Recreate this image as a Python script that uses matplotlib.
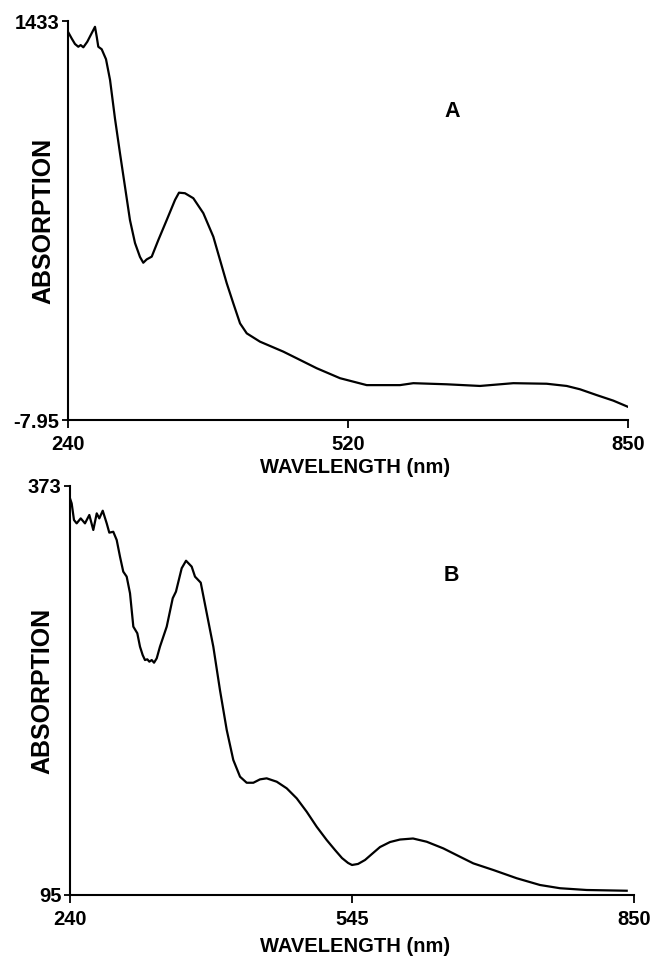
import matplotlib
matplotlib.use("Agg")
import matplotlib.pyplot as plt

plt.rcParams['font.family'] = ['Liberation Sans', 'DejaVu Sans']
plt.rcParams['font.weight'] = 'bold'

# Panel A data
wl_a = [240, 244, 247.6, 251.2, 253.8, 256.7, 261, 265.8, 269.4, 271.3,
        273, 276.7, 281.4, 285.8, 291.2, 296.6, 302.1, 307.5, 313, 318.4,
        322, 325.7, 331.2, 338.4, 347.5, 356.6, 360.9, 367.4, 376.5, 387.4,
        398.3, 405.6, 412.9, 420.1, 427.4, 434.7, 449.1, 474.5, 489.1, 510.9,
        536.3, 565.4, 601.6, 616.1, 652.5, 688.8, 725.1, 761.4, 783.2, 797.7,
        815.9, 834, 849.7]
abs_a = [1394, 1370, 1350, 1340, 1346, 1338, 1358, 1389, 1412, 1376,
         1340, 1331, 1295, 1220, 1080, 956, 834, 714, 631, 581,
         560, 572, 582, 642, 714, 787, 813, 811, 793, 739,
         654, 570, 486, 413, 341, 305, 275, 239, 215, 179,
         143, 118, 118, 125, 121, 115, 125, 123, 115, 103,
         82, 62, 40]

# Panel B data
wl_b = [240, 241.8, 244.3, 247.2, 251.6, 256.2, 260.9, 265.2, 268.9, 271.7,
        275.4, 279.7, 282.5, 286.8, 290.5, 294.1, 297.6, 301.3, 304.9, 308.5,
        312.8, 315.7, 318.6, 321.1, 323.6, 325.8, 328.4, 330.9, 333.8, 337.3,
        344.6, 351.1, 354.6, 360.8, 365.5, 371.6, 375.2, 381.4, 387.9, 395.0,
        402.2, 409.5, 416.6, 423.9, 431.1, 438.3, 445.5, 452.7, 463.6, 474.4,
        485.2, 496.0, 506.8, 517.6, 526.6, 534.2, 540.7, 545.0, 551.5, 559.1,
        566.6, 575.3, 586.1, 596.9, 611.0, 625.8, 643.7, 661.8, 676.2, 697.8,
        723.1, 748.3, 770.0, 798.8, 842.1]
abs_b = [364.6, 361.2, 349.9, 347.6, 351.0, 347.6, 353.3, 343.1, 354.4, 351.0,
         356.2, 347.6, 341.3, 341.9, 336.3, 324.9, 314.8, 311.4, 300.1, 277.4,
         272.9, 263.8, 258.1, 254.7, 255.2, 253.6, 254.7, 252.9, 255.9, 263.8,
         277.4, 296.7, 301.2, 317.1, 322.2, 318.2, 311.4, 307.3, 286.5, 263.8,
         234.3, 207.2, 186.8, 175.4, 171.3, 171.3, 173.6, 174.3, 172.0, 167.5,
         160.7, 151.6, 141.4, 132.4, 125.6, 120.1, 116.8, 115.4, 116.1, 118.8,
         122.9, 127.6, 131.0, 132.7, 133.4, 131.2, 126.7, 121.0, 116.5, 112.0,
         106.4, 101.8, 99.6, 98.4, 97.9]

xlim = (240, 850)
ylim_a = (-7.95, 1433)
ylim_b = (95, 373)
xtick_pos = [240, 545, 850]
xtick_lab_a = ['240', '520', '850']
xtick_lab_b = ['240', '545', '850']
ytick_lab_a = ['-7.95', '1433']
ytick_lab_b = ['95', '373']

fig = plt.figure(figsize=(6.55, 9.59), dpi=100)
W, H = 655, 959
axA = fig.add_axes([68 / W, 1 - 420 / H, 560 / W, 399 / H])
axB = fig.add_axes([70 / W, 1 - 895 / H, 564 / W, 409 / H])


def style(ax, ylim, xl, yl, letter, lx, ly, xlab_c, ylab_c):
    ax.set_xlim(*xlim)
    ax.set_ylim(*ylim)
    for s in ['top', 'right']:
        ax.spines[s].set_visible(False)
    for s in ['left', 'bottom']:
        ax.spines[s].set_linewidth(1.5)
    ax.set_xticks(xtick_pos)
    ax.set_xticklabels(xl, fontsize=14.5, fontweight='bold')
    ax.set_yticks(list(ylim))
    ax.set_yticklabels(yl, fontsize=14.5, fontweight='bold')
    ax.tick_params(axis='x', direction='out', length=6, width=1.3, pad=5)
    ax.tick_params(axis='y', direction='out', length=4, width=1.3, pad=2)
    ax.set_xlabel('WAVELENGTH (nm)', fontsize=14.5, fontweight='bold')
    ax.set_ylabel('ABSORPTION', fontsize=18, fontweight='bold')
    ax.xaxis.set_label_coords(*xlab_c)
    ax.yaxis.set_label_coords(*ylab_c)
    ax.text(lx, ly, letter, transform=ax.transAxes, fontsize=15.5,
            fontweight='bold', ha='center', va='center')


axA.plot(wl_a, abs_a, color='black', lw=1.6)
axB.plot(wl_b, abs_b, color='black', lw=1.6)
style(axA, ylim_a, xtick_lab_a, ytick_lab_a, 'A', 0.686, 0.772,
      (0.5125, -0.095), (-0.023, 0.5))
style(axB, ylim_b, xtick_lab_b, ytick_lab_b, 'B', 0.677, 0.782,
      (0.505, -0.103), (-0.028, 0.5))

fig.savefig('out.png', dpi=100)
